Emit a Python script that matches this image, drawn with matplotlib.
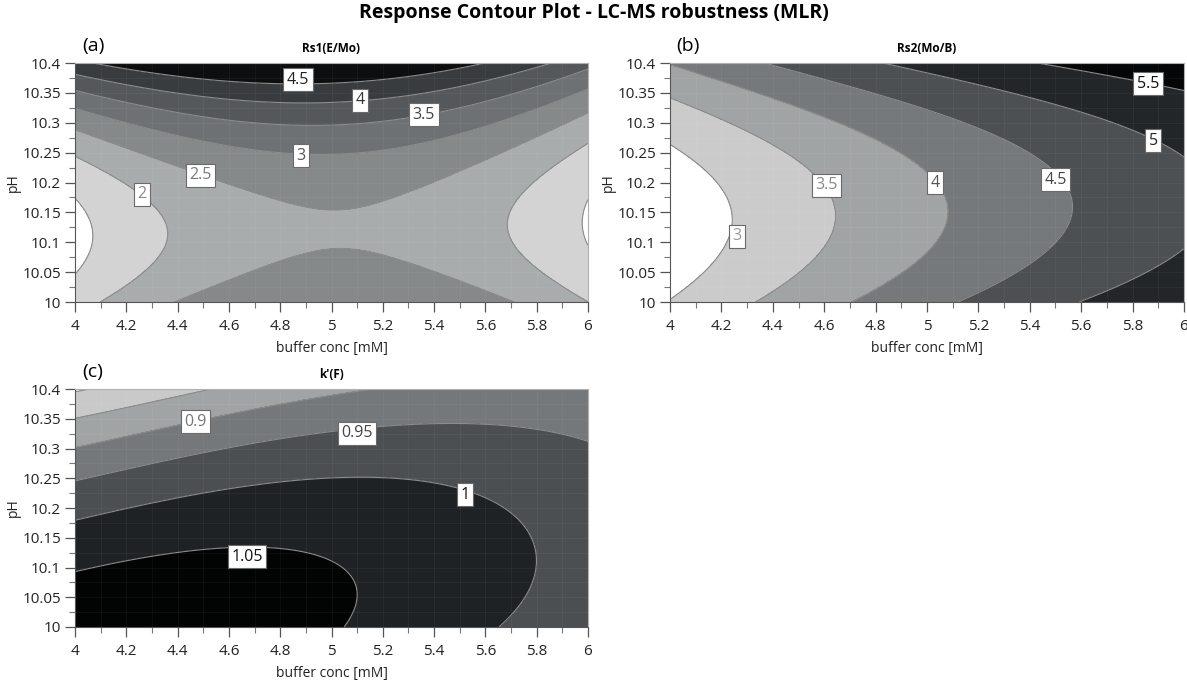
import numpy as np
import matplotlib
matplotlib.use('Agg')
import matplotlib.pyplot as plt
from matplotlib.ticker import MultipleLocator, FuncFormatter

plt.rcParams['font.family'] = ['Open Sans', 'DejaVu Sans']

# MLR response surfaces, coded X = conc - 5:
# response = level(X) + curv(X) * (pH - center(X))^2, each term c0 + c1*X + c2*X^2
rs1_level = [2.464, 0.05, -1.06]
rs1_curv = [34.0, -2.5, -0.5]
rs1_center = [10.1215, 0.0115, 0.0]
rs1_levels = [1.5, 2, 2.5, 3, 3.5, 4, 4.5]
rs1_labels = [2, 2.5, 3, 3.5, 4, 4.5]

rs2_level = [3.91, 1.11, -0.12]
rs2_curv = [20.0, -1.0, -2.0]
rs2_center = [10.15, 0.016, 0.0]
rs2_levels = [3, 3.5, 4, 4.5, 5, 5.5]
rs2_labels = [3, 3.5, 4, 4.5, 5, 5.5]

kf_level = [1.056, -0.0585, -0.0145]
kf_curv = [-1.3, 0.125, 0.275]
kf_center = [10.043, 0.118, -0.0405]
kf_levels = [0.8, 0.85, 0.9, 0.95, 1.0, 1.05]
kf_labels = [0.9, 0.95, 1, 1.05]

conc = np.linspace(4, 6, 301)
ph = np.linspace(10, 10.4, 241)
C, P = np.meshgrid(conc, ph)


def poly(c, X):
    return c[0] + c[1] * X + c[2] * X ** 2


def response(level, curv, center):
    X = C - 5
    return poly(level, X) + poly(curv, X) * (P - poly(center, X)) ** 2


fig = plt.figure(figsize=(11.87, 6.81), dpi=100)
W, H = 1187, 681

fig.text(0.5, 1 - 13 / H, 'Response Contour Plot - LC-MS robustness (MLR)',
         ha='center', va='center', fontsize=14, fontweight='bold')

panels = [
    dict(rect=(75, 63, 588, 302), title='Rs1(E/Mo)', tag='(a)',
         coef=(rs1_level, rs1_curv, rs1_center), levels=rs1_levels,
         labels=rs1_labels,
         colors=['#ffffff', '#d3d3d3', '#a9acad', '#86898a', '#6e7173',
                 '#55585a', '#393c3e', '#0c0e10'],
         lpos=[(4.26, 10.18), (4.49, 10.212), (4.88, 10.245), (5.36, 10.313),
               (5.11, 10.338), (4.87, 10.372)],
         lcol=['#8a8a8a', '#7a7a7a', '#555555', '#444444', '#333333', '#222222']),
    dict(rect=(670, 63, 1184, 302), title='Rs2(Mo/B)', tag='(b)',
         coef=(rs2_level, rs2_curv, rs2_center), levels=rs2_levels,
         labels=rs2_labels,
         colors=['#ffffff', '#cbcbcb', '#a1a4a5', '#76797b', '#4d5052',
                 '#232628', '#050607'],
         lpos=[(4.26, 10.11), (4.61, 10.195), (5.03, 10.2), (5.5, 10.205),
               (5.88, 10.27), (5.86, 10.365)],
         lcol=['#999999', '#888888', '#555555', '#444444', '#222222', '#111111']),
    dict(rect=(75, 389, 588, 627), title="k'(F)", tag='(c)',
         coef=(kf_level, kf_curv, kf_center), levels=kf_levels,
         labels=kf_labels,
         colors=['#e2e2e2', '#c9c9c9', '#a1a4a5', '#75787a', '#4c4f51',
                 '#1f2224', '#020303'],
         lpos=[(4.47, 10.345), (5.1, 10.326), (5.52, 10.222), (4.67, 10.118)],
         lcol=['#777777', '#444444', '#111111', '#111111']),
]

for p in panels:
    x0, y0, x1, y1 = p['rect']
    ax = fig.add_axes([x0 / W, 1 - y1 / H, (x1 - x0) / W, (y1 - y0) / H])
    Z = response(*p['coef'])
    bounds = np.concatenate([[Z.min() - 1], p['levels'], [Z.max() + 1]])
    ax.contourf(C, P, Z, levels=bounds, colors=p['colors'])
    ax.contour(C, P, Z, levels=p['levels'], colors='#8c8c8c', linewidths=0.8)

    for val, (lx, ly), tc in zip(p['labels'], p['lpos'], p['lcol']):
        ax.text(lx, ly, '%g' % val, ha='center', va='center', fontsize=11.5,
                color=tc, zorder=5,
                bbox=dict(boxstyle='square,pad=0.22', fc='white', ec='#6a6a6a', lw=0.8))

    ax.set_xlim(4, 6)
    ax.set_ylim(10, 10.4)
    ax.xaxis.set_major_locator(MultipleLocator(0.2))
    ax.xaxis.set_minor_locator(MultipleLocator(0.1))
    ax.yaxis.set_major_locator(MultipleLocator(0.05))
    ax.yaxis.set_minor_locator(MultipleLocator(0.025))
    fmt = FuncFormatter(lambda v, pos: '%g' % round(v, 3))
    ax.xaxis.set_major_formatter(fmt)
    ax.yaxis.set_major_formatter(fmt)
    ax.tick_params(which='major', length=7, width=0.9, color='#555555',
                   labelsize=11, labelcolor='#222222')
    ax.tick_params(which='minor', length=4, width=0.8, color='#777777')
    ax.tick_params(axis='x', which='major', pad=5)
    ax.tick_params(axis='y', which='major', pad=3)
    ax.grid(True, which='both', color='white', alpha=0.05, lw=0.6)
    for s in ['left', 'bottom']:
        ax.spines[s].set_color('#555555')
    for s in ['top', 'right']:
        ax.spines[s].set_color('#b0b0b0')

    ax.set_xlabel('buffer conc [mM]', fontsize=10, labelpad=5, color='#222222')
    ax.set_ylabel('pH', fontsize=10, labelpad=1, color='#222222')
    ax.text(0.5, 1 + 15 / (y1 - y0), p['title'], transform=ax.transAxes,
            ha='center', va='center', fontsize=8.5, fontweight='bold')
    ax.text(18 / (x1 - x0), 1 + 17 / (y1 - y0), p['tag'], transform=ax.transAxes,
            ha='center', va='center', fontsize=14)

fig.savefig('out.png', dpi=100)
